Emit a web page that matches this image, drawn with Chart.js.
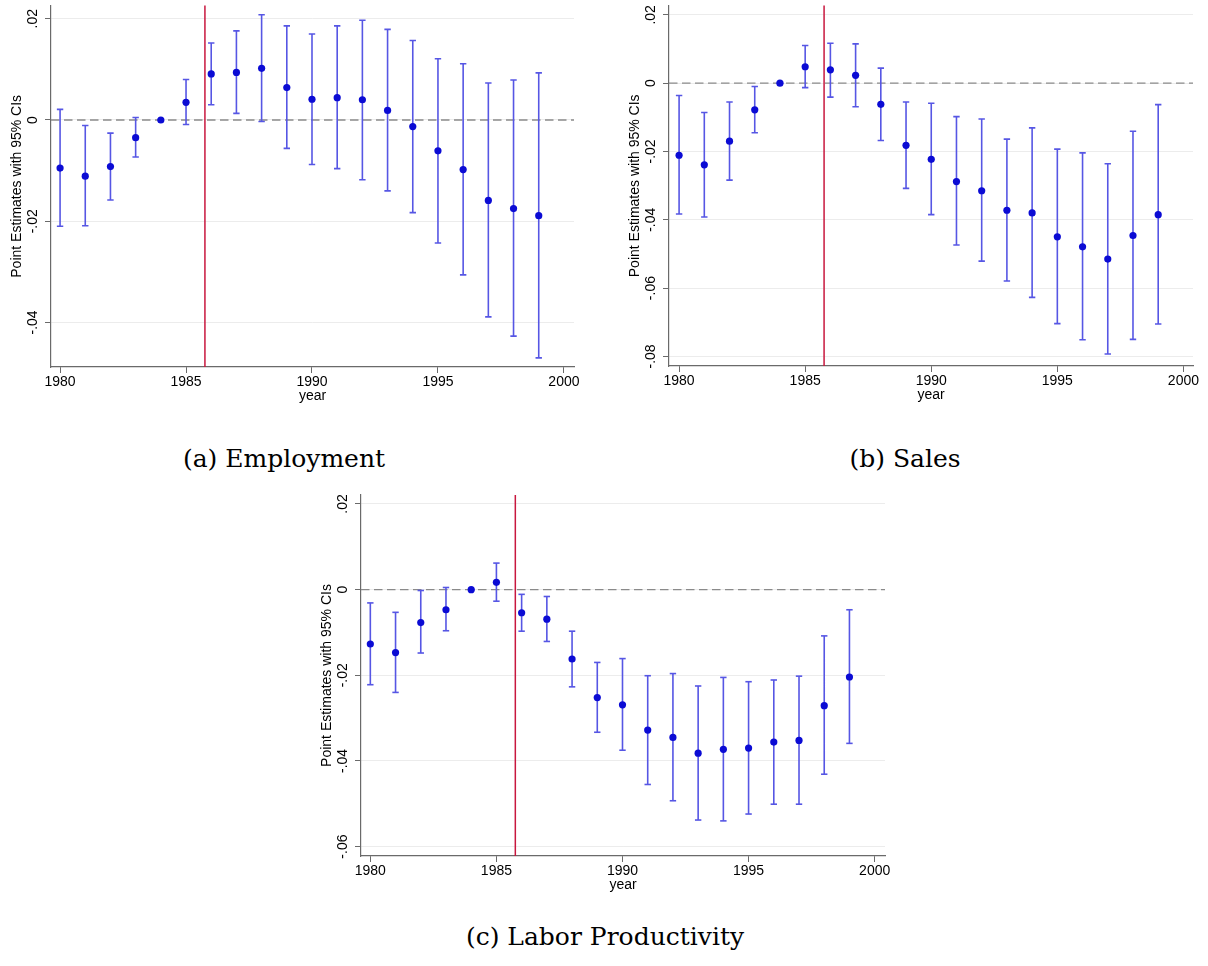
<!DOCTYPE html>
<html>
<head>
<meta charset="utf-8">
<title>Event study estimates</title>
<script src="https://cdn.jsdelivr.net/npm/chart.js@4.4.1/dist/chart.umd.min.js"></script>
<style>
    body { margin: 0; background: #fff; }
    #page { position: relative; width: 1208px; height: 966px; overflow: hidden; }
    canvas { position: absolute; }
    .caption {
        position: absolute;
        font-family: 'DejaVu Serif', serif;
        font-size: 25px;
        line-height: 25px;
        white-space: nowrap;
        transform: translateX(-50%);
        color: #000;
    }
</style>
</head>
<body>
<div id="page">
    <canvas id="empChart" width="595" height="420" style="left:0px;top:0px"></canvas>
    <canvas id="salesChart" width="590" height="419" style="left:618px;top:0px"></canvas>
    <canvas id="prodChart" width="595" height="429" style="left:310px;top:480px"></canvas>
    <div class="caption" style="left:284px;top:446px">(a) Employment</div>
    <div class="caption" style="left:905px;top:446px">(b) Sales</div>
    <div class="caption" style="left:605px;top:924px">(c) Labor Productivity</div>
</div>
<script>
// Tahun dan label sumbu
const years = [1980, 1981, 1982, 1983, 1984, 1985, 1986, 1987, 1988, 1989,
               1990, 1991, 1992, 1993, 1994, 1995, 1996, 1997, 1998, 1999];
const yearTicks = [1980, 1985, 1990, 1995, 2000];
const reformYear = 1985.75;

// (a) Employment
const empEst = [-0.0095, -0.0111, -0.0092, -0.0035, 0, 0.0035, 0.0091, 0.0094, 0.0102, 0.0064,
                0.0041, 0.0044, 0.0040, 0.0019, -0.0013, -0.0061, -0.0098, -0.0159, -0.0175, -0.0189];
const empLo = [-0.0210, -0.0209, -0.0158, -0.0073, 0, -0.0009, 0.0030, 0.0013, -0.0003, -0.0056,
               -0.0088, -0.0096, -0.0118, -0.0140, -0.0183, -0.0243, -0.0306, -0.0389, -0.0427, -0.0470];
const empHi = [0.0021, -0.0011, -0.0026, 0.0005, 0, 0.0080, 0.0152, 0.0176, 0.0208, 0.0186,
               0.0170, 0.0186, 0.0197, 0.0179, 0.0157, 0.0121, 0.0111, 0.0073, 0.0079, 0.0093];
const empTicks = [-0.04, -0.02, 0, 0.02];

// (b) Sales
const salesEst = [-0.0211, -0.0239, -0.0170, -0.0078, 0, 0.0048, 0.0039, 0.0023, -0.0062, -0.0182,
                  -0.0223, -0.0288, -0.0315, -0.0372, -0.0380, -0.0450, -0.0479, -0.0515, -0.0446, -0.0385];
const salesLo = [-0.0383, -0.0392, -0.0284, -0.0145, 0, -0.0013, -0.0041, -0.0069, -0.0168, -0.0308,
                 -0.0385, -0.0474, -0.0521, -0.0579, -0.0627, -0.0704, -0.0751, -0.0793, -0.0750, -0.0705];
const salesHi = [-0.0036, -0.0086, -0.0055, -0.0010, 0, 0.0110, 0.0117, 0.0115, 0.0044, -0.0055,
                 -0.0059, -0.0098, -0.0105, -0.0164, -0.0131, -0.0193, -0.0204, -0.0236, -0.0141, -0.0063];
const salesTicks = [-0.08, -0.06, -0.04, -0.02, 0, 0.02];

// (c) Labor Productivity
const prodEst = [-0.0127, -0.0147, -0.0077, -0.0047, 0, 0.0017, -0.0054, -0.0069, -0.0162, -0.0252,
                 -0.0269, -0.0328, -0.0345, -0.0382, -0.0373, -0.0370, -0.0356, -0.0352, -0.0271, -0.0204];
const prodLo = [-0.0222, -0.0240, -0.0148, -0.0096, 0, -0.0027, -0.0097, -0.0121, -0.0227, -0.0333,
                -0.0375, -0.0455, -0.0493, -0.0538, -0.0540, -0.0524, -0.0501, -0.0501, -0.0431, -0.0359];
const prodHi = [-0.0031, -0.0053, -0.0002, 0.0005, 0, 0.0062, -0.0011, -0.0016, -0.0097, -0.0170,
                -0.0161, -0.0201, -0.0196, -0.0225, -0.0205, -0.0215, -0.0211, -0.0202, -0.0108, -0.0047];
const prodTicks = [-0.06, -0.04, -0.02, 0, 0.02];

Chart.defaults.font.family = "'Liberation Sans', Arial, sans-serif";
Chart.defaults.font.size = 14;
Chart.defaults.color = '#000';

const axisColor = '#6a6a6a';
const gridColor = '#ececec';
const ciColor = '#5656e4';
const dotColor = '#0b0bd4';

// Garis nol putus-putus dan garis merah tahun reformasi
const refLines = {
    id: 'refLines',
    beforeDatasetsDraw: function(chart) {
        const ctx = chart.ctx;
        const area = chart.chartArea;
        const y0 = chart.scales.y.getPixelForValue(0);
        const xr = chart.scales.x.getPixelForValue(reformYear);
        ctx.save();
        ctx.strokeStyle = '#8a8a8a';
        ctx.lineWidth = 1.4;
        ctx.setLineDash([8.5, 4.5]);
        ctx.beginPath();
        ctx.moveTo(area.left, y0);
        ctx.lineTo(area.right, y0);
        ctx.stroke();
        ctx.setLineDash([]);
        ctx.strokeStyle = '#c8173e';
        ctx.lineWidth = 1.5;
        ctx.beginPath();
        ctx.moveTo(xr, area.top);
        ctx.lineTo(xr, area.bottom);
        ctx.stroke();
        ctx.restore();
    }
};

// Format angka gaya Stata: .02, -.04, 0
function stataLabel(v) {
    if (Math.abs(v) < 1e-9) return '0';
    let s = Math.abs(v).toFixed(2).replace(/^0/, '');
    return (v < 0 ? '-' : '') + s;
}

function drawPanel(canvasId, est, lo, hi, yTicks, xRange, yRange, padding) {
    // Interval kepercayaan: dua titik per tahun, dipisah null
    let ciData = [];
    years.forEach(function(yr, i) {
        ciData.push({x: yr, y: lo[i]});
        ciData.push({x: yr, y: hi[i]});
        ciData.push({x: yr, y: null});
    });
    let pointData = years.map((yr, i) => ({x: yr, y: est[i]}));

    const ctx = document.getElementById(canvasId).getContext('2d');

    new Chart(ctx, {
        type: 'line',
        data: {
            datasets: [{
                label: 'Estimate',
                data: pointData,
                showLine: false,
                pointRadius: 3.6,
                pointBackgroundColor: dotColor,
                pointBorderColor: dotColor,
                pointBorderWidth: 0
            }, {
                label: '95% CI',
                data: ciData,
                borderColor: ciColor,
                borderWidth: 1.6,
                tension: 0,
                spanGaps: false,
                pointStyle: 'line',
                pointRadius: 3.2,
                pointBorderColor: ciColor,
                pointBorderWidth: 1.6
            }]
        },
        options: {
            responsive: false,
            animation: false,
            events: [],
            layout: { padding: padding },
            plugins: {
                legend: { display: false },
                tooltip: { enabled: false }
            },
            scales: {
                x: {
                    type: 'linear',
                    bounds: 'data',
                    min: xRange[0],
                    max: xRange[1],
                    afterBuildTicks: function(scale) {
                        scale.ticks = yearTicks.map(v => ({value: v}));
                    },
                    afterFit: function(scale) {
                        scale.height = 53;
                        scale.paddingLeft = 0;
                        scale.paddingRight = 0;
                    },
                    grid: {
                        drawOnChartArea: false,
                        drawTicks: true,
                        tickLength: 6,
                        tickColor: axisColor,
                        tickWidth: 1
                    },
                    border: { color: axisColor, width: 1.2 },
                    ticks: {
                        padding: 1,
                        minRotation: 0,
                        maxRotation: 0,
                        callback: v => String(v)
                    },
                    title: {
                        display: true,
                        text: 'year',
                        padding: { top: 0, bottom: 15 }
                    }
                },
                y: {
                    type: 'linear',
                    bounds: 'data',
                    min: yRange[0],
                    max: yRange[1],
                    afterBuildTicks: function(scale) {
                        scale.ticks = yTicks.map(v => ({value: v}));
                    },
                    afterFit: function(scale) {
                        scale.width = 51;
                        scale.paddingTop = 0;
                        scale.paddingBottom = 0;
                    },
                    grid: {
                        color: gridColor,
                        lineWidth: 1,
                        tickLength: 6,
                        tickColor: axisColor,
                        tickWidth: 1
                    },
                    border: { color: axisColor, width: 1.2 },
                    ticks: {
                        minRotation: 90,
                        maxRotation: 90,
                        crossAlign: 'center',
                        padding: 0,
                        callback: stataLabel
                    },
                    title: {
                        display: true,
                        text: 'Point Estimates with 95% CIs',
                        padding: { top: 9, bottom: 0 }
                    }
                }
            }
        },
        plugins: [refLines]
    });
}

drawPanel('empChart', empEst, empLo, empHi, empTicks,
          [1979.64, 2000.4], [-0.0488, 0.0226], {top: 5, right: 21, bottom: 0, left: 0});
drawPanel('salesChart', salesEst, salesLo, salesHi, salesTicks,
          [1979.6, 2000.38], [-0.0828, 0.0227], {top: 5, right: 15, bottom: 0, left: 0});
drawPanel('prodChart', prodEst, prodLo, prodHi, prodTicks,
          [1979.63, 2000.41], [-0.0622, 0.0221], {top: 15, right: 20, bottom: 0, left: 0});
</script>
</body>
</html>
